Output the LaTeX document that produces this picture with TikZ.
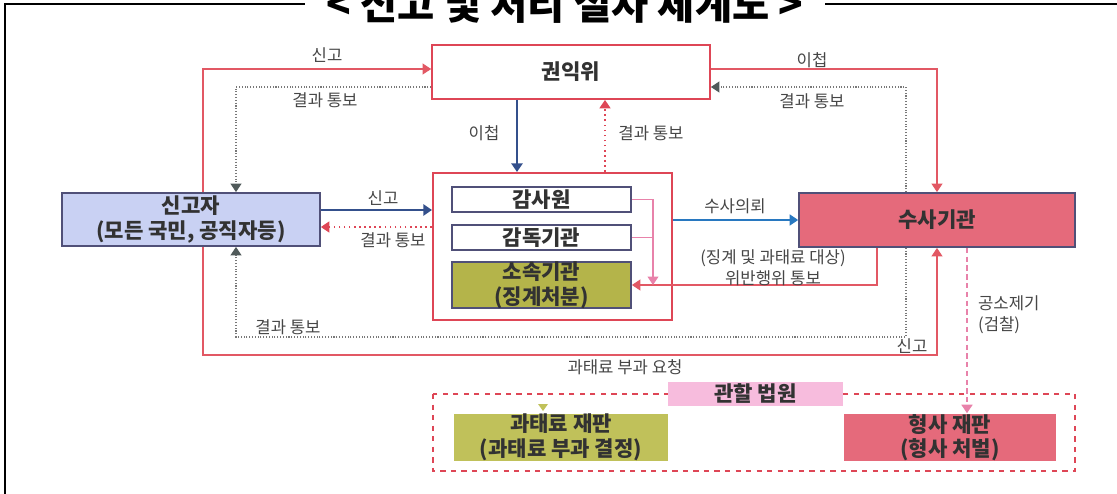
\documentclass[tikz,border=0pt]{standalone}
\usepackage{fontspec}
\setmainfont{Noto Sans CJK KR}
\usetikzlibrary{arrows.meta}
\definecolor{redln}{RGB}{226,88,100}
\definecolor{redbox}{RGB}{222,70,86}
\definecolor{bluedk}{RGB}{52,80,140}
\definecolor{bluelt}{RGB}{40,120,192}
\definecolor{grayln}{RGB}{120,120,120}
\definecolor{grayhd}{RGB}{80,90,90}
\definecolor{pinkln}{RGB}{232,130,170}
\definecolor{frame}{RGB}{80,80,120}
\definecolor{reporter}{RGB}{201,209,243}
\definecolor{olive}{RGB}{180,180,74}
\definecolor{olivelt}{RGB}{192,193,90}
\definecolor{police}{RGB}{229,106,123}
\definecolor{court}{RGB}{247,188,221}
\definecolor{txt}{RGB}{50,50,50}
\definecolor{lbl}{RGB}{70,70,70}

\tikzset{
  box/.style={draw=frame, line width=1pt, inner sep=0pt, align=center, text=txt,
              font=\large\bfseries},
  lab/.style={text=lbl, inner sep=1pt, font=\fontsize{9.5}{12}\selectfont},
  redline/.style={draw=redln, line width=0.6pt},
  reddot/.style={draw=redbox, line width=0.9pt, dotted},
  blueline/.style={draw=bluedk, line width=1.3pt},
  dotline/.style={draw=grayln, line width=0.6pt, densely dotted, -{Triangle[length=1.7mm,width=2.2mm,color=grayhd]}},
}

\begin{document}
\begin{tikzpicture}[x=0.02cm, y=-0.02cm, >={Triangle[length=1.7mm,width=2.2mm]}]
    \useasboundingbox (0,0) rectangle (1117,494);

    % Cadre et titre
    \draw[line width=0.8pt] (5,494) -- (5,4) -- (305,4);
    \draw[line width=0.8pt] (825,4) -- (1117,4);
    \node[anchor=base, font=\fontsize{23}{26}\selectfont\bfseries] (title) at (565,19) {< 신고 및 처리 절차 체계도 >};

    % Boites principales
    \node[box, draw=redbox, fill=white, minimum width=5.56cm, minimum height=1.08cm] (kwon) at (571,72) {권익위};
    \node[box, fill=reporter, minimum width=5.16cm, minimum height=1.06cm] (reporter) at (191,219.5) {신고자\\(모든 국민, 공직자등)};
    \node[box, draw=redbox, fill=white, line width=1.2pt, minimum width=4.78cm, minimum height=2.94cm] (group) at (552.5,246.5) {};
    \node[box, fill=white, minimum width=3.58cm, minimum height=0.5cm] (audit) at (541.5,199.5) {감사원};
    \node[box, fill=white, minimum width=3.58cm, minimum height=0.5cm] (superv) at (541.5,237.5) {감독기관};
    \node[box, fill=olive, minimum width=3.58cm, minimum height=0.92cm] (affil) at (541.5,285) {소속기관\\(징계처분)};
    \node[box, fill=police, minimum width=5.52cm, minimum height=1.08cm] (police) at (937,220) {수사기관};

    % Juridiction
    \draw[draw=redbox, line width=1pt, dashed] (433,394) rectangle (1075,471);
    \node[box, draw=none, fill=court, minimum width=3.5cm, minimum height=0.48cm] (courtlab) at (755.5,394) {관할 법원};
    \node[box, draw=none, fill=olivelt, minimum width=4.28cm, minimum height=0.9cm] (fine) at (561,437.5) {과태료 재판\\(과태료 부과 결정)};
    \node[box, draw=none, fill=police, minimum width=4.24cm, minimum height=0.9cm] (crim) at (950,437.5) {형사 재판\\(형사 처벌)};
    \fill[olivelt] (538,404) -- (548,404) -- (543,411) -- cycle;

    % Points de passage
    \coordinate (xa) at (203,0);
    \coordinate (xb) at (236,0);
    \coordinate (xc) at (517,0);
    \coordinate (xd) at (605,0);
    \coordinate (xf) at (906,0);
    \coordinate (xj) at (877,0);
    \coordinate (xk) at (653,0);
    \coordinate (xn) at (967,0);
    \coordinate (ys) at (0,210);
    \coordinate (yr) at (0,227);
    \coordinate (lb) at (203,355);
    \coordinate (rb) at (937,355);
    \coordinate (ld) at (236,337);
    \coordinate (rd) at (906,337);

    % Fleches vers / depuis le haut
    \draw[redline, ->] (reporter.north -| xa) |- ([yshift=0.06cm]kwon.west);
    \draw[dotline] ([yshift=-0.3cm]kwon.west) -| (reporter.north -| xb);
    \draw[blueline, ->] (kwon.south -| xc) -- (group.north -| xc);
    \draw[reddot, ->] (group.north -| xd) -- (kwon.south -| xd);
    \draw[redline, ->] ([yshift=0.06cm]kwon.east) -| (police.north);
    \draw[dotline] (police.north -| xf) |- ([yshift=-0.3cm]kwon.east);

    % Fleches horizontales
    \draw[blueline, ->] (reporter.east |- ys) -- (group.west |- ys);
    \draw[reddot, ->] (group.west |- yr) -- (reporter.east |- yr);
    \draw[draw=bluelt, line width=1pt, ->] (group.east |- police.west) -- (police.west);
    \draw[redline, ->] (police.south -| xj) |- (affil.east);
    \draw[draw=pinkln, line width=0.6pt, ->] (audit.east) -| (xk |- affil.east);
    \draw[draw=pinkln, line width=0.6pt] (superv.east) -- (superv.east -| xk);

    % Boucles du bas
    \draw[redline, ->] (reporter.south -| lb) -- (lb) -- (rb) -- (police.south);
    \draw[dotline] (police.south -| rd) -- (rd) -- (ld) -- (reporter.south -| ld);
    \draw[draw=pinkln, line width=1pt, densely dashed, ->] (police.south -| xn) -- (crim.north -| xn);

    % Etiquettes
    \node[lab] (l1) at (327,55) {신고};
    \node[lab] (l2) at (325,100) {결과 통보};
    \node[lab] (l3) at (484,133) {이첩};
    \node[lab] (l4) at (651,133) {결과 통보};
    \node[lab] (l5) at (812,60) {이첩};
    \node[lab] (l6) at (812,101) {결과 통보};
    \node[lab] (l7) at (383,198) {신고};
    \node[lab] (l8) at (393,240) {결과 통보};
    \node[lab] (l9) at (735,206) {수사의뢰};
    \node[lab] (l10) at (773,258) {(징계 및 과태료 대상)};
    \node[lab] (l11) at (773,278) {위반행위 통보};
    \node[lab] (l12) at (288,327) {결과 통보};
    \node[lab] (l13) at (912,346) {신고};
    \node[lab] (l14) at (625,367) {과태료 부과 요청};
    \node[lab, anchor=west, align=left] (l15) at (976,315) {공소제기\\(검찰)};

\end{tikzpicture}
\end{document}
